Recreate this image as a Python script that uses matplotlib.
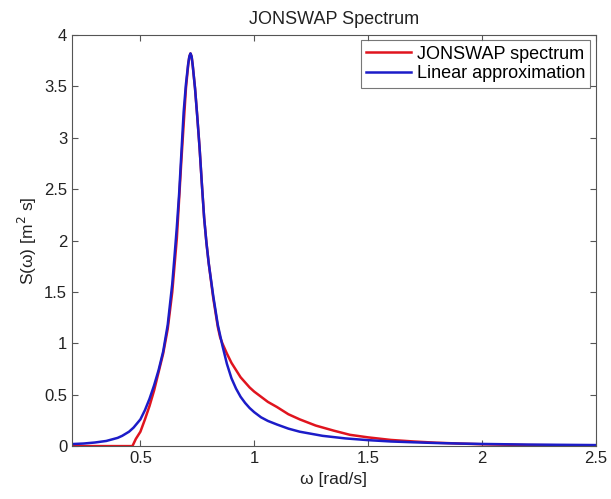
import matplotlib
matplotlib.use("Agg")
import matplotlib.pyplot as plt

# values
omega_jonswap = [0.20, 0.30, 0.40, 0.465, 0.48, 0.50, 0.52, 0.54, 0.56, 0.58,
                 0.60, 0.62, 0.64, 0.66, 0.68, 0.70, 0.71, 0.715, 0.72, 0.725,
                 0.73, 0.74, 0.75, 0.76, 0.77, 0.78, 0.79, 0.80, 0.82, 0.84,
                 0.85, 0.86, 0.88, 0.90, 0.92, 0.94, 0.96, 0.98, 1.00, 1.03,
                 1.06, 1.10, 1.15, 1.20, 1.27, 1.35, 1.42, 1.50, 1.60, 1.70,
                 1.80, 1.90, 2.00, 2.20, 2.50]
s_jonswap = [0.0, 0.0, 0.0, 0.0, 0.07, 0.14, 0.26, 0.39, 0.54, 0.72,
             0.90, 1.14, 1.50, 2.02, 2.78, 3.48, 3.71, 3.79, 3.82, 3.79,
             3.70, 3.48, 3.20, 2.90, 2.55, 2.22, 1.98, 1.78, 1.44, 1.16,
             1.06, 1.00, 0.90, 0.81, 0.74, 0.67, 0.62, 0.57, 0.53, 0.48,
             0.43, 0.38, 0.31, 0.26, 0.20, 0.15, 0.11, 0.085, 0.06, 0.045,
             0.033, 0.025, 0.018, 0.01, 0.006]

omega_linear = [0.20, 0.25, 0.30, 0.35, 0.40, 0.42, 0.45, 0.47, 0.50, 0.52,
                0.54, 0.56, 0.58, 0.60, 0.62, 0.64, 0.65, 0.66, 0.67, 0.68,
                0.69, 0.70, 0.71, 0.715, 0.72, 0.725, 0.73, 0.74, 0.75, 0.76,
                0.77, 0.78, 0.79, 0.80, 0.82, 0.84, 0.86, 0.88, 0.90, 0.92,
                0.94, 0.96, 0.98, 1.00, 1.03, 1.06, 1.10, 1.15, 1.20, 1.25,
                1.30, 1.40, 1.50, 1.60, 1.70, 1.80, 1.90, 2.00, 2.20, 2.50]
s_linear = [0.02, 0.025, 0.035, 0.05, 0.08, 0.10, 0.14, 0.18, 0.26, 0.35,
            0.46, 0.59, 0.74, 0.92, 1.18, 1.58, 1.85, 2.13, 2.45, 2.85,
            3.25, 3.52, 3.72, 3.79, 3.82, 3.79, 3.70, 3.48, 3.20, 2.90,
            2.55, 2.22, 1.98, 1.78, 1.46, 1.18, 0.98, 0.80, 0.66, 0.56,
            0.48, 0.42, 0.37, 0.33, 0.28, 0.245, 0.21, 0.17, 0.14, 0.12,
            0.10, 0.075, 0.058, 0.045, 0.037, 0.03, 0.025, 0.021, 0.015, 0.01]

x_ticks = [0.5, 1, 1.5, 2, 2.5]
x_ticklabels = ["0.5", "1", "1.5", "2", "2.5"]
y_ticks = [0, 0.5, 1, 1.5, 2, 2.5, 3, 3.5, 4]
y_ticklabels = ["0", "0.5", "1", "1.5", "2", "2.5", "3", "3.5", "4"]

plt.rcParams["font.family"] = ["Liberation Sans", "DejaVu Sans"]
plt.rcParams["font.size"] = 12

fig = plt.figure(figsize=(6.11, 4.99), dpi=100)
ax = fig.add_axes([0.118, 0.106, 0.857, 0.824])

ax.plot(omega_jonswap, s_jonswap, color="#e0141e", linewidth=1.8,
        label="JONSWAP spectrum")
ax.plot(omega_linear, s_linear, color="#1c1cc8", linewidth=1.8,
        label="Linear approximation")

ax.set_xlim(0.2, 2.5)
ax.set_ylim(0, 4)
ax.set_xticks(x_ticks)
ax.set_xticklabels(x_ticklabels)
ax.set_yticks(y_ticks)
ax.set_yticklabels(y_ticklabels)
ax.tick_params(direction="in", top=True, right=True, length=4,
               color="#555555", labelcolor="#222222", labelsize=12)
for sp in ax.spines.values():
    sp.set_color("#555555")
    sp.set_linewidth(0.8)

ax.set_title("JONSWAP Spectrum", fontsize=13, color="#222222", pad=8)
ax.set_xlabel("ω [rad/s]", fontsize=12.5, color="#222222")
ax.set_ylabel("S(ω) [m$^2$ s]", fontsize=12.5, color="#222222")

leg = ax.legend(loc="upper right", fontsize=13, fancybox=False,
                borderaxespad=0.3, handlelength=2.5, borderpad=0.3,
                labelspacing=0.15, handletextpad=0.3)
leg.get_frame().set_edgecolor("#555555")
leg.get_frame().set_linewidth(0.8)

fig.savefig("out.png", dpi=100)
